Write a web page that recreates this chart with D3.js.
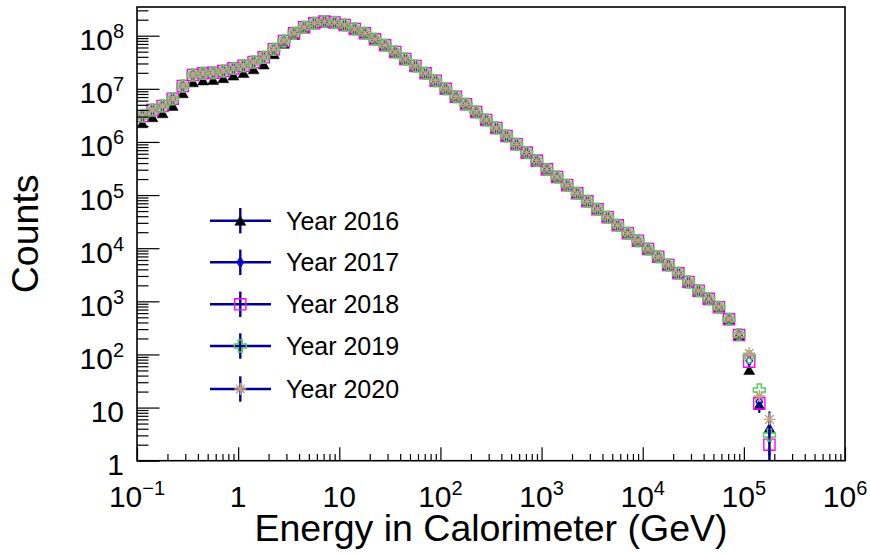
<!DOCTYPE html>
<html><head><meta charset="utf-8">
<script src="https://cdn.jsdelivr.net/npm/d3@7"></script>
<style>
html,body{margin:0;padding:0;background:#fff;}
svg{display:block;font-family:"Liberation Sans",Arial,Helvetica,sans-serif;}
</style></head><body>
<svg id="chart" width="870" height="557"></svg>
<script>
// ---- binning (categories): 10 log bins per decade starting at 0.1 GeV ----
const binLowLog10 = -1, binsPerDecade = 10, nBins = 63;

// ---- series values (counts per bin) ----
const seriesNames = ["Year 2016","Year 2017","Year 2018","Year 2019","Year 2020"];
const counts2016 = [2.26e6,2.93e6,3.48e6,4.78e6,8.28e6,1.33e7,1.44e7,1.47e7,1.59e7,1.78e7,
  1.99e7,2.34e7,2.87e7,4.50e7,7.08e7,1.04e8,1.38e8,1.71e8,1.84e8,1.77e8,
  1.59e8,1.34e8,1.11e8,8.55e7,6.59e7,4.93e7,3.64e7,2.69e7,1.96e7,1.42e7,
  1.00e7,7.11e6,5.12e6,3.66e6,2.59e6,1.83e6,1.29e6,9.04e5,6.28e5,4.44e5,
  3.05e5,2.19e5,1.53e5,1.08e5,7.64e4,5.40e4,3.82e4,2.70e4,1.91e4,1.38e4,
  9.66e3,6.92e3,4.83e3,3.37e3,2.31e3,1.58e3,1.11e3,773,452,228,51,11.2,4.1];
const counts2017 = [3.08e6,4.00e6,4.75e6,6.52e6,1.13e7,1.82e7,1.96e7,2.01e7,2.17e7,2.43e7,
  2.72e7,3.20e7,3.92e7,5.55e7,7.94e7,1.11e8,1.44e8,1.71e8,1.84e8,1.77e8,
  1.59e8,1.34e8,1.11e8,8.55e7,6.59e7,4.93e7,3.64e7,2.69e7,1.96e7,1.42e7,
  1.00e7,7.11e6,5.12e6,3.66e6,2.59e6,1.83e6,1.29e6,9.04e5,6.28e5,4.44e5,
  3.05e5,2.19e5,1.53e5,1.08e5,7.64e4,5.40e4,3.82e4,2.70e4,1.91e4,1.38e4,
  9.66e3,6.92e3,4.83e3,3.37e3,2.31e3,1.58e3,1.11e3,773,459,232,76,12.9,3.8];
const counts2018 = [3.08e6,4.00e6,4.75e6,6.52e6,1.13e7,1.82e7,1.96e7,2.01e7,2.17e7,2.43e7,
  2.72e7,3.20e7,3.92e7,5.55e7,7.94e7,1.11e8,1.44e8,1.71e8,1.84e8,1.77e8,
  1.59e8,1.34e8,1.11e8,8.55e7,6.59e7,4.93e7,3.64e7,2.69e7,1.96e7,1.42e7,
  1.00e7,7.11e6,5.12e6,3.66e6,2.59e6,1.83e6,1.29e6,9.04e5,6.28e5,4.44e5,
  3.05e5,2.19e5,1.53e5,1.08e5,7.64e4,5.40e4,3.82e4,2.70e4,1.91e4,1.38e4,
  9.66e3,6.92e3,4.83e3,3.37e3,2.31e3,1.58e3,1.11e3,773,459,232,73,12.0,2.0];
const counts2019 = [3.08e6,4.00e6,4.75e6,6.52e6,1.13e7,1.82e7,1.96e7,2.01e7,2.17e7,2.43e7,
  2.72e7,3.20e7,3.92e7,5.55e7,7.94e7,1.11e8,1.44e8,1.71e8,1.84e8,1.77e8,
  1.59e8,1.34e8,1.11e8,8.55e7,6.59e7,4.93e7,3.64e7,2.69e7,1.96e7,1.42e7,
  1.00e7,7.11e6,5.12e6,3.66e6,2.59e6,1.83e6,1.29e6,9.04e5,6.28e5,4.44e5,
  3.05e5,2.19e5,1.53e5,1.08e5,7.64e4,5.40e4,3.82e4,2.70e4,1.91e4,1.38e4,
  9.66e3,6.92e3,4.83e3,3.37e3,2.31e3,1.58e3,1.11e3,773,459,236,91,21.4,3.05];
const counts2020 = [3.08e6,4.00e6,4.75e6,6.52e6,1.13e7,1.82e7,1.96e7,2.01e7,2.17e7,2.43e7,
  2.72e7,3.20e7,3.92e7,5.55e7,7.94e7,1.11e8,1.44e8,1.71e8,1.84e8,1.77e8,
  1.59e8,1.34e8,1.11e8,8.55e7,6.59e7,4.93e7,3.64e7,2.69e7,1.96e7,1.42e7,
  1.00e7,7.11e6,5.12e6,3.66e6,2.59e6,1.83e6,1.29e6,9.04e5,6.28e5,4.44e5,
  3.05e5,2.19e5,1.53e5,1.08e5,7.64e4,5.40e4,3.82e4,2.70e4,1.91e4,1.38e4,
  9.66e3,6.92e3,4.83e3,3.37e3,2.31e3,1.58e3,1.11e3,780,465,240,105,16.5,6.0];
// errors of the last three bins (visible ones); others are tiny
const tailErr2016 = [7.0,3.3,2.0];
const tailErr2017 = [8.7,3.6,3.8];
const tailErr2018 = [8.5,3.5,2.0];
const tailErr2019 = [9.5,4.6,1.8];
const tailErr2020 = [10.0,4.0,2.4];

// ---- tick labels ----
const xTickValues = [0.1,1,10,100,1e3,1e4,1e5,1e6];
const xTickBase   = ["10","1","10","10","10","10","10","10"];
const xTickExp    = ["\u22121","","","2","3","4","5","6"];
const yTickValues = [1,10,1e2,1e3,1e4,1e5,1e6,1e7,1e8];
const yTickBase   = ["1","10","10","10","10","10","10","10","10"];
const yTickExp    = ["","","2","3","4","5","6","7","8"];
const xTitle = "Energy in Calorimeter (GeV)";
const yTitle = "Counts";

// ---- layout ----
const L = 137, R = 845, T = 7, B = 460.7;
const svg = d3.select("#chart");
const x = d3.scaleLog().domain([0.1, 1e6]).range([L, R]);
const y = d3.scaleLog().domain([1, Math.pow(10, 8.54)]).range([B, T]);

const binCenters = d3.range(nBins).map(k => {
  const lo = Math.pow(10, binLowLog10 + k / binsPerDecade);
  const hi = Math.pow(10, binLowLog10 + (k + 1) / binsPerDecade);
  return (lo + hi) / 2;
});

const errColor = "#000099";
const shapes = {
  tri: {d: "M0,-5L5.5,4.6L-5.5,4.6Z", fill: true},
  diamond: {d: "M0,-5L3.2,0L0,5L-3.2,0Z", fill: false},
  square: {d: "M-5.6,-5.6H5.6V5.6H-5.6Z", fill: false},
  cross: {d: "M-2,-6H2V-2H6V2H2V6H-2V2H-6V-2H-2Z", fill: false},
  star: {d: "M-6,0H6M0,-6V6M-4.3,-4.3L4.3,4.3M-4.3,4.3L4.3,-4.3", fill: false}
};
const series = [
  {name: seriesNames[0], vals: counts2016, tail: tailErr2016, shape: "tri", color: "#000000"},
  {name: seriesNames[1], vals: counts2017, tail: tailErr2017, shape: "diamond", color: "#0000ff"},
  {name: seriesNames[2], vals: counts2018, tail: tailErr2018, shape: "square", color: "#ff00ff"},
  {name: seriesNames[3], vals: counts2019, tail: tailErr2019, shape: "cross", color: "#55cc55"},
  {name: seriesNames[4], vals: counts2020, tail: tailErr2020, shape: "star", color: "#c4a080"}
];

function drawMarker(g, s, cx, cy) {
  const sh = shapes[s.shape];
  g.append("path").attr("d", sh.d)
    .attr("transform", `translate(${cx},${cy})`)
    .attr("fill", sh.fill ? s.color : "none")
    .attr("stroke", s.color)
    .attr("stroke-width", sh.fill ? 0.5 : 1.4);
}

// clip
svg.append("defs").append("clipPath").attr("id", "frameClip")
  .append("rect").attr("x", L).attr("y", T).attr("width", R - L).attr("height", B - T);

// ---- data ----
const plot = svg.append("g").attr("clip-path", "url(#frameClip)");
series.forEach(s => {
  const g = plot.append("g");
  s.vals.forEach((v, i) => {
    const cx = x(binCenters[i]), cy = y(v);
    const ti = i - (nBins - 3);
    const err = ti >= 0 ? s.tail[ti] : Math.sqrt(v);
    const yHi = y(v + err);
    const yLo = v - err > 0.5 ? y(v - err) : B + 2;
    const gap = 5.5;
    if (yHi < cy - gap) g.append("line").attr("x1", cx).attr("x2", cx).attr("y1", yHi).attr("y2", cy - gap)
      .attr("stroke", errColor).attr("stroke-width", 2);
    if (yLo > cy + gap) g.append("line").attr("x1", cx).attr("x2", cx).attr("y1", cy + gap).attr("y2", yLo)
      .attr("stroke", errColor).attr("stroke-width", 2);
    drawMarker(g, s, cx, cy);
  });
});

// ---- axes (ticks via d3 axes) ----
const xMinor = [], yMinor = [];
for (let d = -1; d < 6; d++) for (let m = 2; m <= 9; m++) xMinor.push(m * Math.pow(10, d));
for (let d = 0; d < 9; d++) for (let m = 2; m <= 9; m++) { const v = m * Math.pow(10, d); if (v <= y.domain()[1]) yMinor.push(v); }

function styleAxis(g) {
  g.select(".domain").remove();
  g.selectAll(".tick line").attr("stroke", "#000").attr("stroke-width", 1.2);
  g.selectAll(".tick text").remove();
}
svg.append("g").attr("transform", `translate(0,${B})`)
  .call(d3.axisBottom(x).tickValues(xMinor).tickSize(-6.7).tickFormat("")).call(styleAxis);
svg.append("g").attr("transform", `translate(0,${B})`)
  .call(d3.axisBottom(x).tickValues(xTickValues).tickSize(-13.4).tickFormat("")).call(styleAxis);
svg.append("g").attr("transform", `translate(${L},0)`)
  .call(d3.axisLeft(y).tickValues(yMinor).tickSize(-11.5).tickFormat("")).call(styleAxis);
svg.append("g").attr("transform", `translate(${L},0)`)
  .call(d3.axisLeft(y).tickValues(yTickValues).tickSize(-22.5).tickFormat("")).call(styleAxis);

// frame
svg.append("rect").attr("x", L).attr("y", T).attr("width", R - L).attr("height", B - T)
  .attr("fill", "none").attr("stroke", "#000").attr("stroke-width", 1.6);

// tick labels
function label(g, base, exp) {
  g.append("tspan").text(base);
  if (exp) g.append("tspan").text(exp).attr("font-size", 20).attr("dy", -12);
}
xTickValues.forEach((v, i) => {
  const t = svg.append("text").attr("x", x(v)).attr("y", B + 46).attr("text-anchor", "middle")
    .attr("font-size", 30).attr("fill", "#000");
  label(t, xTickBase[i], xTickExp[i]);
});
yTickValues.forEach((v, i) => {
  const t = svg.append("text").attr("x", 124).attr("y", y(v) + 14.5).attr("text-anchor", "end")
    .attr("font-size", 30).attr("fill", "#000");
  label(t, yTickBase[i], yTickExp[i]);
});

// titles
svg.append("text").attr("x", (L + R) / 2).attr("y", 541).attr("text-anchor", "middle")
  .attr("font-size", 37.5).attr("fill", "#000").text(xTitle);
svg.append("text").attr("transform", `translate(38,${(T + B) / 2}) rotate(-90)`).attr("text-anchor", "middle")
  .attr("font-size", 37.5).attr("fill", "#000").text(yTitle);

// ---- legend ----
const legY = [220.7, 262.3, 304.3, 346, 389];
series.forEach((s, i) => {
  const g = svg.append("g");
  const cy = legY[i], cx = 240.3;
  g.append("line").attr("x1", 210).attr("x2", 271).attr("y1", cy).attr("y2", cy)
    .attr("stroke", errColor).attr("stroke-width", 2.4);
  g.append("line").attr("x1", cx).attr("x2", cx).attr("y1", cy - 12.7).attr("y2", cy + 12.7)
    .attr("stroke", errColor).attr("stroke-width", 2.4);
  drawMarker(g, s, cx, cy);
  g.append("text").attr("x", 286).attr("y", cy + 9).attr("font-size", 25).attr("fill", "#000").text(s.name);
});
</script>
</body></html>
